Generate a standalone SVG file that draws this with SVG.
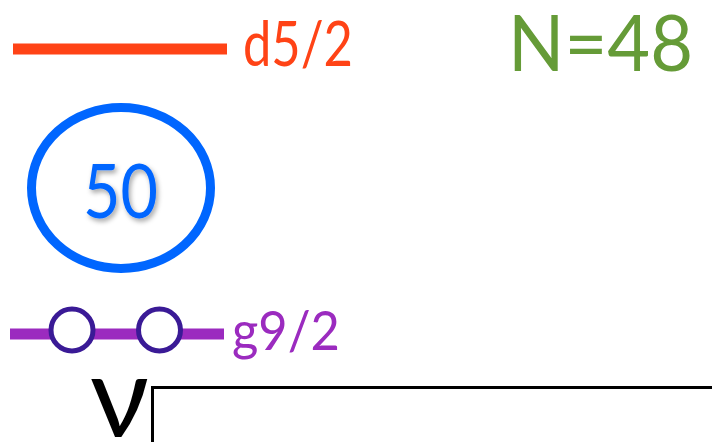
<svg xmlns="http://www.w3.org/2000/svg" width="712" height="442" viewBox="0 0 712 442">
<style>
.lbl{font-family:Lato,"Open Sans","Liberation Sans",sans-serif;}
</style>
<defs>
<filter id="sh" x="-30%" y="-30%" width="160%" height="160%">
<feDropShadow dx="2" dy="3" stdDeviation="2.5" flood-color="#000" flood-opacity="0.35"/>
</filter>
</defs>
<rect width="712" height="442" fill="#fff"/>
<g id="connectors">
<line x1="13" y1="49" x2="227" y2="49" stroke="#FF4316" stroke-width="11"/>
<line x1="10" y1="334" x2="224" y2="334" stroke="#9B2BBF" stroke-width="11"/>
</g>
<g id="d52">
<text class="lbl" x="243" y="66" font-size="61" fill="#FF4316" textLength="110" lengthAdjust="spacingAndGlyphs">d5/2</text>
</g>
<g id="n48">
<text class="lbl" x="508" y="71" font-size="78" fill="#659B37" textLength="185" lengthAdjust="spacingAndGlyphs">N=48</text>
</g>
<g id="node50">
<ellipse cx="121" cy="188" rx="89.5" ry="80.5" fill="none" stroke="#0066FF" stroke-width="9"/>
<text class="lbl" x="83" y="218" font-size="76" fill="#0066FF" filter="url(#sh)" textLength="75" lengthAdjust="spacingAndGlyphs">50</text>
</g>
<g id="g92">
<circle cx="72" cy="330" r="21" fill="#fff" stroke="#3A1A96" stroke-width="5"/>
<circle cx="159.5" cy="330" r="21" fill="#fff" stroke="#3A1A96" stroke-width="5"/>
<text class="lbl" x="232" y="350" font-size="54" fill="#9B2BBF" textLength="108" lengthAdjust="spacingAndGlyphs">g9/2</text>
</g>
<g id="nu">
<text class="lbl" x="90" y="437" font-size="115" fill="#000">ν</text>
</g>
<g id="box">
<rect x="152.5" y="387.5" width="600" height="100" fill="none" stroke="#000" stroke-width="3"/>
</g>
</svg>
